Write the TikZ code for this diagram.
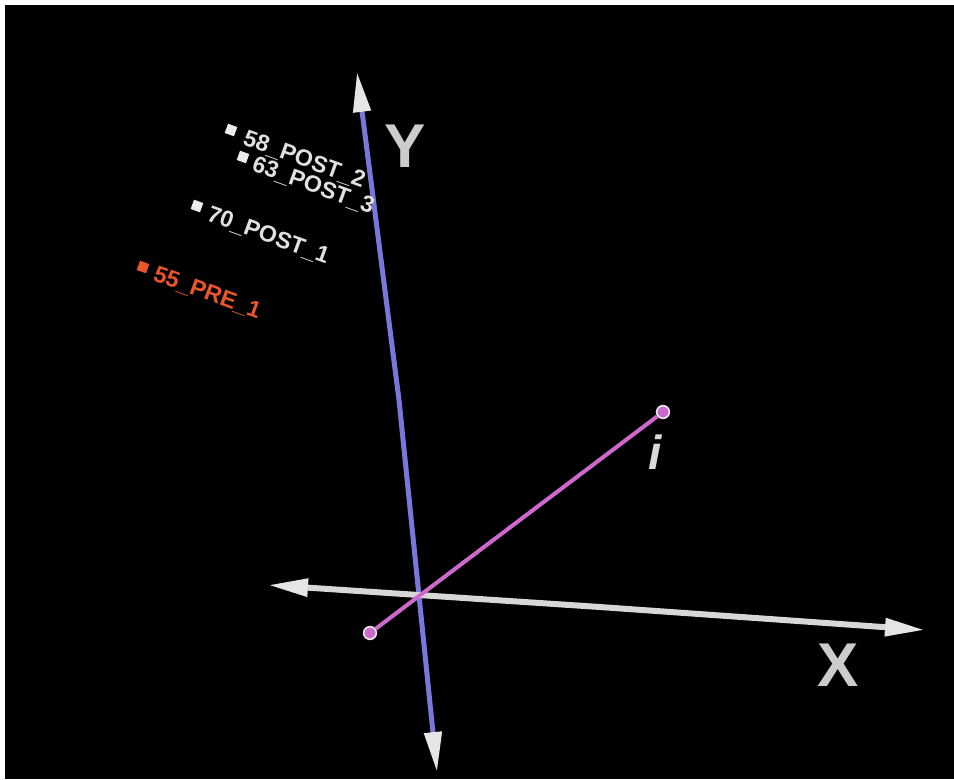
\documentclass[tikz,border=0pt]{standalone}
\usepackage{fontspec}
\setmainfont{Liberation Sans}
\usetikzlibrary{arrows.meta}
\definecolor{axisblue}{RGB}{120,120,220}
\definecolor{axisgray}{RGB}{215,215,215}
\definecolor{linkpink}{RGB}{205,105,205}
\definecolor{prered}{RGB}{235,85,45}
\tikzset{
  lbl/.style={font=\fontsize{16.5}{16.5}\selectfont\bfseries, text=white!88!black, rotate=-20, anchor=west, inner sep=0pt},
  mk/.style={fill=white!92!black, minimum size=7pt, inner sep=0pt, rotate=-20},
  big/.style={font=\fontsize{44}{44}\selectfont\bfseries, text=white!80!black, inner sep=0pt},
  tip/.style={-{Triangle[length=40*0.025cm, width=17*0.025cm, fill=white!90!black, color=white!90!black]}},
  endpt/.style={circle, draw=white!90!black, fill=linkpink, line width=1.2pt, minimum size=9pt, inner sep=0pt}
}
\begin{document}
\begin{tikzpicture}[x=0.025cm,y=-0.025cm]
\useasboundingbox (0,0) rectangle (954,779);
\fill[white] (0,0) rectangle (954,779);
\fill[black] (5,5) rectangle (954,779);
% Y axis
\coordinate (yc) at (399,400);
\coordinate (ytop) at (357,72);
\coordinate (ybot) at (437,772);
\draw[axisblue, line width=5*0.025cm, tip] (yc) -- (ytop);
\draw[axisblue, line width=5*0.025cm, tip] (yc) -- (ybot);
% X axis
\coordinate (xc) at (600,607);
\coordinate (xleft) at (268,585);
\coordinate (xright) at (925,630);
\draw[axisgray, line width=6*0.025cm, tip] (xc) -- (xleft);
\draw[axisgray, line width=6*0.025cm, tip] (xc) -- (xright);
% pink link
\node[endpt] (pa) at (370,633) {};
\node[endpt] (pb) at (663,412) {};
\draw[linkpink, line width=4*0.025cm] (pa) -- (pb);
% axis labels
\node[big] (ylab) at (405,146) {Y};
\node[big] (xlab) at (838,665) {X};
\node[font=\fontsize{34}{34}\selectfont\bfseries\itshape, text=white!85!black, inner sep=0pt] (ilab) at (655,452) {i};
% point labels
\node[mk] (m1) at (231,130) {};
\node[lbl] (t1) at (244,138) {58\_POST\_2};
\node[mk] (m2) at (243,157) {};
\node[lbl] (t2) at (253,164) {63\_POST\_3};
\node[mk] (m3) at (197,206) {};
\node[lbl] (t3) at (208,214) {70\_POST\_1};
\node[mk, fill=prered] (m4) at (143,267) {};
\node[lbl, text=prered] (t4) at (154,274) {55\_PRE\_1};
\end{tikzpicture}
\end{document}
